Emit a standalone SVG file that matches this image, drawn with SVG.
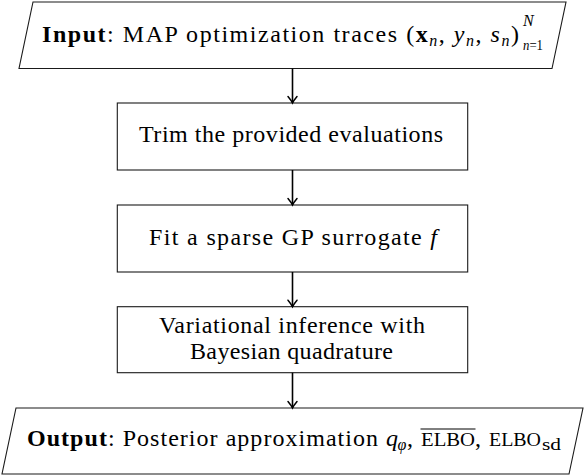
<svg xmlns="http://www.w3.org/2000/svg" width="586" height="476" viewBox="0 0 586 476">
  <style>
    .box { fill: #ffffff; stroke: #1a1a1a; stroke-width: 1.1; }
    .t { font-family: 'Liberation Serif', serif; font-size: 24px; fill: #000; }
    .s { font-family: 'Liberation Serif', serif; font-size: 16px; fill: #000; }
    .ss { font-family: 'Liberation Serif', serif; font-size: 14px; fill: #000; }
    .sc { font-family: 'Liberation Serif', serif; font-size: 18.5px; fill: #000; }
    .b { font-weight: bold; }
    .i { font-style: italic; }
    .edge { stroke: #000; stroke-width: 1.6; fill: none; }
  </style>
  <defs>
    <marker id="arr" markerUnits="userSpaceOnUse" markerWidth="14" markerHeight="14" refX="0" refY="0" viewBox="-8 -7 10 14" orient="auto">
      <path d="M-6.5,-4.5 Q-2.5,-1.2 0,0 Q-2.5,1.2 -6.5,4.5" fill="none" stroke="#000" stroke-width="1.5" stroke-linecap="round"/>
    </marker>
  </defs>
  <rect width="586" height="476" fill="#ffffff"/>

  <g id="input">
    <polygon class="box" points="33,2 566,2 552,68.5 19,68.5"/>
    <text class="t" x="42" y="42" textLength="477" lengthAdjust="spacing"><tspan class="b">Input</tspan>: MAP optimization traces (<tspan class="b">x</tspan><tspan class="s i" dy="4">n</tspan><tspan dy="-4">, </tspan><tspan class="i">y</tspan><tspan class="s i" dy="4">n</tspan><tspan dy="-4">, </tspan><tspan class="i">s</tspan><tspan class="s i" dy="4">n</tspan><tspan dy="-4">)</tspan></text>
    <text class="s i" x="523" y="26">N</text>
    <text class="ss" x="523" y="49.5" textLength="20" lengthAdjust="spacingAndGlyphs"><tspan class="i">n</tspan>=1</text>
  </g>

  <g id="trim">
    <rect class="box" x="117.3" y="103" width="350.4" height="67"/>
    <text class="t" x="139" y="142" textLength="304" lengthAdjust="spacing">Trim the provided evaluations</text>
  </g>

  <g id="fit">
    <rect class="box" x="117.3" y="205" width="350.4" height="67"/>
    <text class="t" x="149" y="244.5" textLength="288" lengthAdjust="spacing">Fit a sparse GP surrogate <tspan class="i">f</tspan></text>
  </g>

  <g id="vi">
    <rect class="box" x="117.3" y="306.7" width="350.4" height="66"/>
    <text class="t" x="159" y="332.5" textLength="266" lengthAdjust="spacing">Variational inference with</text>
    <text class="t" x="190" y="358.5" textLength="203" lengthAdjust="spacing">Bayesian quadrature</text>
  </g>

  <g id="output">
    <polygon class="box" points="16,408 583,408 569,474 2,474"/>
    <text class="t" x="27" y="446" textLength="351" lengthAdjust="spacing"><tspan class="b">Output</tspan>: Posterior approximation</text>
    <text class="t i" x="386" y="446">q</text>
    <text class="s i" x="397.5" y="450">φ</text>
    <text class="t" x="407" y="446">,</text>
    <text class="sc" x="421" y="446" textLength="54" lengthAdjust="spacingAndGlyphs">ELBO</text>
    <line x1="420.5" y1="429" x2="475.5" y2="429" stroke="#000" stroke-width="1"/>
    <text class="t" x="475" y="446">,</text>
    <text class="sc" x="489" y="446" textLength="52" lengthAdjust="spacingAndGlyphs">ELBO</text>
    <text class="s" x="542" y="450" textLength="19" lengthAdjust="spacingAndGlyphs">sd</text>
  </g>

  <g id="connectors">
    <line class="edge" x1="292.5" y1="68.5" x2="292.5" y2="103" marker-end="url(#arr)"/>
    <line class="edge" x1="292.5" y1="170" x2="292.5" y2="205" marker-end="url(#arr)"/>
    <line class="edge" x1="292.5" y1="272" x2="292.5" y2="306.7" marker-end="url(#arr)"/>
    <line class="edge" x1="292.5" y1="372.7" x2="292.5" y2="408" marker-end="url(#arr)"/>
  </g>
</svg>
